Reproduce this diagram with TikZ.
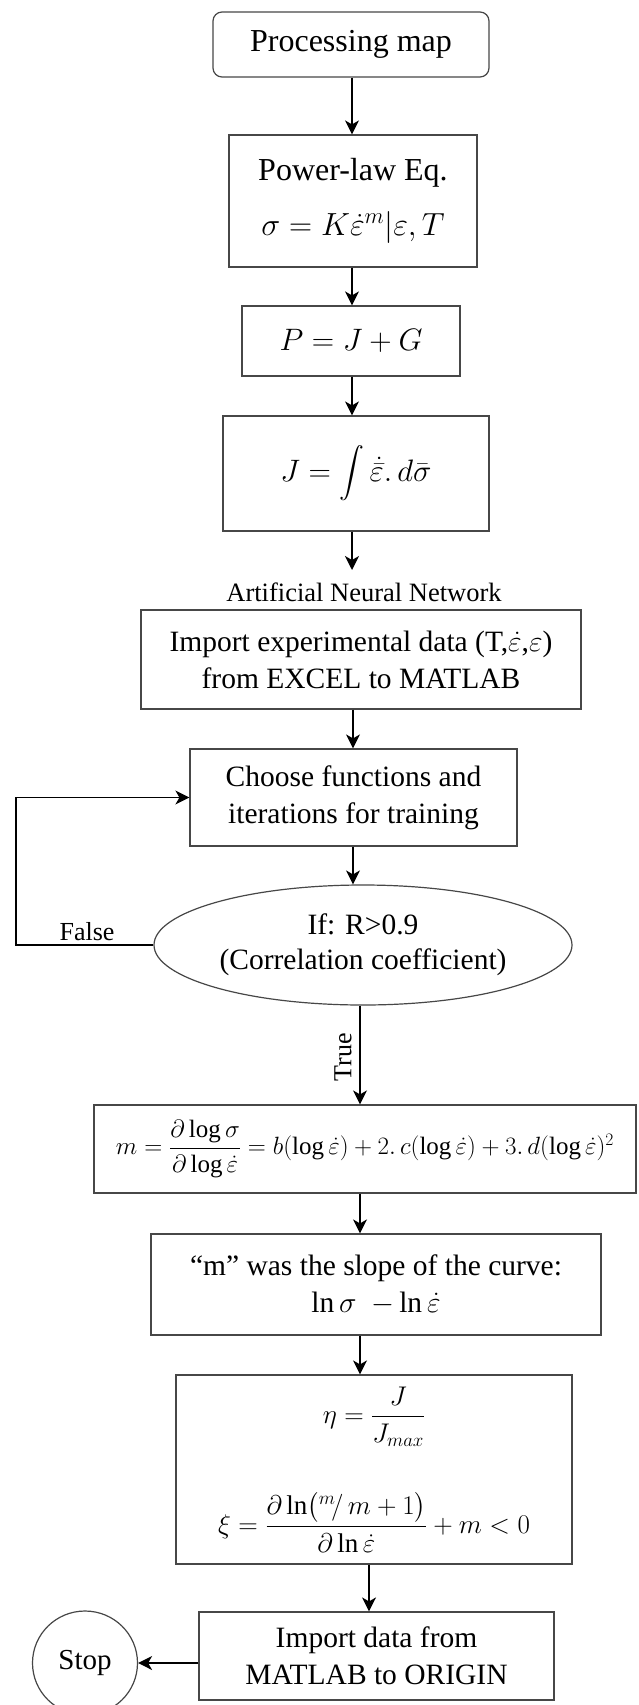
\RequirePackage{fix-cm}
\documentclass[tikz,border=0pt]{standalone}
\usepackage{amsmath}
\usepackage{fontspec}
\setmainfont{Liberation Serif}
\usetikzlibrary{arrows.meta,shapes.geometric,calc}
\begin{document}
\begin{tikzpicture}[x=1pt,y=-1pt,
  box/.style={draw=black!72, line width=1.2pt, inner sep=0pt, align=center, font=\fontsize{29.5}{37}\selectfont},
  oval/.style={draw=black!72, line width=1.2pt, ellipse, inner sep=0pt, align=center, font=\fontsize{29.5}{35}\selectfont},
  arr/.style={line width=1.4pt, -{Stealth[length=14pt,width=14pt,inset=4pt]}},
  lbl/.style={font=\fontsize{26}{30}\selectfont, inner sep=0pt}
]
\clip (0,0) rectangle (638,1705);
\fill[white] (0,0) rectangle (638,1705);
\coordinate (ax0) at (352,0);
\coordinate (ax1) at (353,0);
\coordinate (ax2) at (360,0);
\coordinate (ax3) at (369,0);
\coordinate (lp) at (16,0);

\node[box, rounded corners=9pt, minimum width=276pt, minimum height=65pt, font=\fontsize{32}{38}\selectfont] (proc) at (351,44.5) {Processing map};
\node[box, minimum width=248pt, minimum height=132pt, font=\fontsize{32}{38}\selectfont] (power) at (353,201) {Power-law Eq.\\[17pt] $\sigma = K\dot{\varepsilon}^{m}|\varepsilon,T$};
\node[box, minimum width=218pt, minimum height=70pt, font=\fontsize{31}{38}\selectfont] (pj) at (351,341) {$P = J + G$};
\node[box, minimum width=266pt, minimum height=115pt, font=\fontsize{31}{38}\selectfont] (jint) at (356,473.5) {$J=\displaystyle\int\dot{\bar{\varepsilon}}.\,d\bar{\sigma}$};
\node[lbl, font=\fontsize{26.5}{30}\selectfont] (ann) at (364,592) {Artificial Neural Network};
\coordinate (annin) at (352,570);

\node[box, minimum width=440pt, minimum height=99pt] (imp) at (361,659.5) {Import experimental data (T,$\dot{\varepsilon}$,$\varepsilon$)\\from EXCEL to MATLAB};
\node[box, minimum width=327pt, minimum height=97pt] (choose) at (353.5,797.5) {Choose functions and\\iterations for training};
\node[oval, minimum width=418pt, minimum height=120pt] (cond) at (363,945) {If: R>0.9\\(Correlation coefficient)};

\node[box, minimum width=542pt, minimum height=88pt, font=\fontsize{25}{30}\selectfont] (mbox) at (365,1149) {$m=\dfrac{\partial\log\sigma}{\partial\log\dot{\varepsilon}}=b(\log\dot{\varepsilon})+2.\,c(\log\dot{\varepsilon})+3.\,d(\log\dot{\varepsilon})^2$};
\node[box, minimum width=450pt, minimum height=101pt] (slope) at (376,1284.5) {``m'' was the slope of the curve:\\$\ln\sigma\ \ {-}\ln\dot{\varepsilon}$};
\node[box, minimum width=396pt, minimum height=189pt, font=\fontsize{27}{34}\selectfont] (eta) at (374,1469.5) {$\eta=\dfrac{J}{J_{max}}$\\[44pt]$\xi=\dfrac{\partial\ln\bigl({}^{m}\!/\,m+1\bigr)}{\partial\ln\dot{\varepsilon}}+m<0$};
\node[box, minimum width=355pt, minimum height=88pt] (out) at (376.5,1656) {Import data from\\MATLAB to ORIGIN};
\node[oval, minimum width=105pt, minimum height=104pt, font=\fontsize{29}{34}\selectfont] (stop) at (85,1663) {Stop};

\draw[arr] (proc.south -| ax0) -- (power.north -| ax0);
\draw[arr] (power.south -| ax0) -- (pj.north -| ax0);
\draw[arr] (pj.south -| ax0) -- (jint.north -| ax0);
\draw[arr] (jint.south -| ax0) -- (annin);
\draw[arr] (imp.south -| ax1) -- (choose.north -| ax1);
\draw[arr] (choose.south -| ax1) -- (cond.north -| ax1);
\draw[arr] (cond.west) -- (cond.west -| lp) -- (choose.west -| lp) -- (choose.west);
\node[lbl] (falselbl) at (87,932) {False};
\draw[arr] (cond.south -| ax2) -- (mbox.north -| ax2);
\node[lbl, rotate=90] (truelbl) at (343,1057) {True};
\draw[arr] (mbox.south -| ax2) -- (slope.north -| ax2);
\draw[arr] (slope.south -| ax2) -- (eta.north -| ax2);
\draw[arr] (eta.south -| ax3) -- (out.north -| ax3);
\draw[arr] (out.west |- stop.east) -- (stop.east);
\end{tikzpicture}
\end{document}
